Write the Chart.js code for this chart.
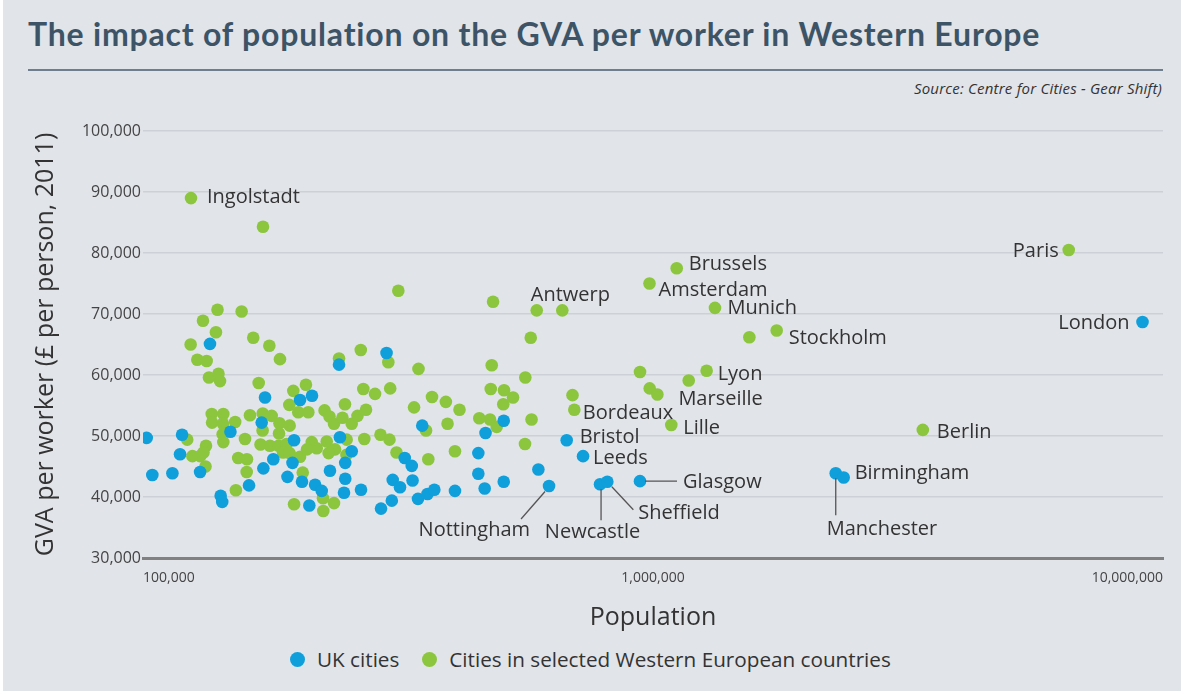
<!DOCTYPE html>
<html>
<head>
<meta charset="utf-8">
<script src="https://cdn.jsdelivr.net/npm/chart.js@4/dist/chart.umd.min.js"></script>
<style>
  html, body { margin: 0; padding: 0; background: #fff; }
  #panel { position: absolute; left: 3px; top: 0; width: 1178px; height: 691px; background: #e1e4e9; }
  h1 { position: absolute; left: 28px; top: 15px; margin: 0; font: 700 32px/38px Lato, sans-serif; letter-spacing: 0.8px; color: #3d5467; white-space: nowrap; }
  .rule { position: absolute; left: 28px; top: 69px; width: 1135px; height: 2px; background: #6e7e8e; }
  .source { position: absolute; right: 34px; top: 78px; font: italic 15px/20px "Open Sans", sans-serif; letter-spacing: 0.2px; color: #333; }
  #chart { position: absolute; left: 0; top: 0; }
  #legend { position: absolute; left: 290px; top: 644px; display: flex; align-items: center; font: 20.7px/30px "Open Sans", sans-serif; color: #333; }
  #legend .dot { width: 15px; height: 15px; border-radius: 50%; display: inline-block; margin-right: 12px; }
  #legend .item { display: flex; align-items: center; margin-right: 23px; }
</style>
</head>
<body>
<div id="panel"></div>
<h1>The impact of population on the GVA per worker in Western Europe</h1>
<div class="rule"></div>
<div class="source">Source: Centre for Cities - Gear Shift)</div>
<canvas id="chart" width="1196" height="640"></canvas>
<div id="legend">
  <span class="item"><span class="dot" style="background:#0f9fdb"></span>UK cities</span>
  <span class="item"><span class="dot" style="background:#8cc63e"></span>Cities in selected Western European countries</span>
</div>
<script>
  // population ticks and axis range
  const xTicks = [100000, 1000000, 10000000];
  const yTicks = [30000, 100000];

  // UK cities: population, GVA per worker
  const ukPop = [101700, 104300, 114200, 119300, 118200, 129400, 135300, 148400, 142000, 143000,
    161400, 170900, 173500, 172200, 180100, 197800, 203200, 214500, 196400, 192000,
    205000, 217500, 224100, 211900, 232600, 243300, 256600, 249200, 249200, 247800,
    267600, 242300, 300300, 292900, 307500, 308800, 319100, 337700, 326000, 336500,
    352800, 346100, 361300, 372600, 409000, 469500, 509700, 454500, 454500, 467700,
    509700, 596000,
    625400, 677300, 729200, 787400, 813700, 943000, 2282000, 2365000, 9116000];
  const ukGva = [49700, 43600, 43900, 50200, 47000, 44100, 65100, 50700, 40200, 39200,
    41900, 52200, 56300, 44700, 46200, 49300, 55900, 56600, 45600, 43300,
    42500, 42000, 41000, 38600, 44300, 49800, 47500, 45600, 43000, 40700,
    41200, 61700, 63600, 38100, 39400, 42800, 41600, 42700, 46400, 45100,
    51700, 39700, 40500, 41200, 41000, 50500, 52500, 47200, 43800, 41400,
    42500, 44500,
    41800, 49300, 46700, 42100, 42500, 42600, 43900, 43200, 68700];
  const ukNames = new Array(52).fill('').concat(['Nottingham', 'Bristol', 'Leeds', 'Newcastle',
    'Sheffield', 'Glasgow', 'Manchester', 'Birmingham', 'London']);

  // Western European cities
  const euPop = [171900, 316700, 140000, 156100, 131100, 139000, 124000, 164500, 176900, 127800,
    133300, 185600, 134700, 140600, 141600, 168600, 197100, 208700, 193600, 201600,
    210900, 136400, 143700, 136600, 143500, 151600, 162100, 171700, 178800, 185200,
    193900, 171600, 184800, 143300, 143700, 122100, 158500, 132900, 131400, 125000,
    129400, 132600, 153700, 159900, 159700, 152100, 170000, 177400, 184500, 191300,
    188200, 193800, 203200, 214200, 219100, 209700, 205700, 197800, 225400, 225700,
    236900, 227000, 232100, 236900, 246100, 248900, 256600, 263400, 273700, 229200,
    238000, 231200, 250800, 250600, 271600, 292200, 304300, 314100, 242300, 267300,
    302700, 270400, 285100, 305300, 340000, 346900, 368700, 392500, 417400, 358900,
    395500, 362600, 409000, 485700, 482800, 480700, 510400, 531600, 508700, 456500,
    479100, 493800, 561100, 561900, 575800, 664000, 577900, 695300, 943000, 1545000,
    1175000, 985100,
    124200, 591600, 701000, 984300, 1113000, 1323000, 1748000, 1274000, 1020000, 1086000,
    3381000, 6533000];
  const euGva = [84300, 73800, 70700, 70400, 68900, 67000, 65000, 66100, 64800, 62500,
    62300, 62600, 59600, 60200, 59000, 58700, 57400, 58400, 55100, 53900,
    53900, 53600, 53600, 52200, 52000, 52300, 53400, 53700, 53300, 52100,
    51700, 50900, 50400, 50300, 49000, 49400, 49500, 48400, 47300, 46700,
    46700, 45000, 46400, 46200, 44100, 41100, 48600, 48400, 48400, 48700,
    47300, 47200, 46600, 49000, 48000, 47800, 44000, 38800, 39800, 37700,
    39000, 54200, 53200, 52000, 53000, 55200, 52000, 53300, 54300, 49100,
    47800, 47200, 49400, 46900, 49500, 50200, 49400, 47300, 62700, 64100,
    62100, 57700, 56900, 57800, 54700, 61000, 56400, 55600, 54300, 50900,
    52000, 46200, 47500, 72000, 61600, 57700, 57500, 56300, 55200, 52900,
    52700, 51500, 48700, 59600, 66100, 70600, 52700, 56700, 60500, 66200,
    59100, 57800,
    89000, 70600, 54300, 75000, 77500, 71000, 67300, 60700, 56800, 51800,
    51000, 80500];
  const euNames = new Array(112).fill('').concat(['Ingolstadt', 'Antwerp', 'Bordeaux', 'Amsterdam',
    'Brussels', 'Munich', 'Stockholm', 'Lyon', 'Marseille', 'Lille', 'Berlin', 'Paris']);

  // where each city name sits relative to its dot (px), optional leader line
  const labelStyle = {
    Ingolstadt: { dx: 16, dy: -2, align: 'left' },
    Antwerp: { dx: -6, dy: -16, align: 'left' },
    Brussels: { dx: 12, dy: -5, align: 'left' },
    Amsterdam: { dx: 9, dy: 5.5, align: 'left' },
    Munich: { dx: 12.5, dy: -0.5, align: 'left' },
    Stockholm: { dx: 12, dy: 7, align: 'left' },
    Lyon: { dx: 11, dy: 2, align: 'left' },
    Marseille: { dx: 21, dy: 3, align: 'left' },
    Bordeaux: { dx: 8.5, dy: 2, align: 'left' },
    Lille: { dx: 12, dy: 1.5, align: 'left' },
    Berlin: { dx: 14, dy: 1.5, align: 'left' },
    Paris: { dx: -10, dy: 0.5, align: 'right' },
    London: { dx: -13, dy: 0, align: 'right' },
    Bristol: { dx: 13, dy: -4.5, align: 'left' },
    Leeds: { dx: 10, dy: 1, align: 'left' },
    Birmingham: { dx: 11, dy: -5.5, align: 'left' },
    Glasgow: { dx: 43, dy: -0.5, align: 'left', line: [5, 0, 37, 0] },
    Sheffield: { dx: 31, dy: 30, align: 'left', line: [4.5, 5, 26, 28] },
    Newcastle: { dx: -7.5, dy: 47, align: 'center', line: [1, 5, 1, 36] },
    Nottingham: { dx: -19, dy: 42.5, align: 'right', line: [-4, 5.5, -28, 33] },
    Manchester: { dx: -9, dy: 54.5, align: 'left', line: [0, 5, 0, 42] }
  };

  const cityLabels = {
    id: 'cityLabels',
    afterDatasetsDraw(chart) {
      const ctx = chart.ctx;
      ctx.save();
      ctx.font = '20px "Open Sans"';
      ctx.fillStyle = '#333';
      ctx.strokeStyle = '#555';
      ctx.lineWidth = 1.3;
      ctx.textBaseline = 'alphabetic';
      chart.data.datasets.forEach((ds, d) => {
        const meta = chart.getDatasetMeta(d);
        ds.names.forEach((name, i) => {
          if (!name) return;
          const s = labelStyle[name];
          const p = meta.data[i];
          if (s.line) {
            ctx.beginPath();
            ctx.moveTo(p.x + s.line[0], p.y + s.line[1]);
            ctx.lineTo(p.x + s.line[2], p.y + s.line[3]);
            ctx.stroke();
          }
          ctx.textAlign = s.align;
          ctx.fillText(name, p.x + s.dx, p.y + s.dy + 7);
        });
      });
      ctx.restore();
    }
  };

  function toPoints(xs, ys) {
    return xs.map((x, i) => ({ x: x, y: ys[i] }));
  }

  const ctx = document.getElementById('chart').getContext('2d');
  new Chart(ctx, {
    type: 'scatter',
    data: {
      datasets: [
        { label: 'UK cities', data: toPoints(ukPop, ukGva), names: ukNames, backgroundColor: '#0f9fdb' },
        { label: 'Cities in selected Western European countries', data: toPoints(euPop, euGva), names: euNames, backgroundColor: '#8cc63e' }
      ]
    },
    options: {
      responsive: false,
      animation: false,
      events: [],
      layout: { padding: { top: 131, right: 33, bottom: 0, left: 0 } },
      elements: { point: { radius: 6.3, borderWidth: 0, hoverRadius: 6.3 } },
      plugins: { legend: { display: false }, tooltip: { enabled: false } },
      scales: {
        x: {
          type: 'logarithmic',
          min: xTicks[0],
          max: xTicks[xTicks.length - 1],
          afterBuildTicks: s => { s.ticks = xTicks.map(v => ({ value: v })); },
          afterFit: s => { s.height = 82; },
          ticks: {
            align: 'inner', padding: 12, color: '#444',
            font: { family: 'Open Sans', size: 14 },
            callback: v => Number(v).toLocaleString('en-US')
          },
          grid: { display: false, drawTicks: false },
          border: { display: true, color: '#808080', width: 3 },
          title: {
            display: true, text: 'Population', color: '#333',
            font: { family: 'Open Sans', size: 25 }, padding: { top: 0, bottom: 7 }
          }
        },
        y: {
          min: yTicks[0],
          max: yTicks[1],
          afterFit: s => { s.width = 143; },
          ticks: {
            stepSize: 10000, padding: 2, color: '#444',
            font: { family: 'Open Sans', size: 16 },
            callback: v => Number(v).toLocaleString('en-US')
          },
          grid: { color: '#cdd1d7', lineWidth: 1.5, drawTicks: false },
          border: { display: false },
          title: {
            display: true, text: 'GVA per worker (£ per person, 2011)', color: '#333',
            font: { family: 'Open Sans', size: 25 }, padding: { top: 31, bottom: 0 }
          }
        }
      }
    },
    plugins: [cityLabels]
  });
</script>
</body>
</html>
